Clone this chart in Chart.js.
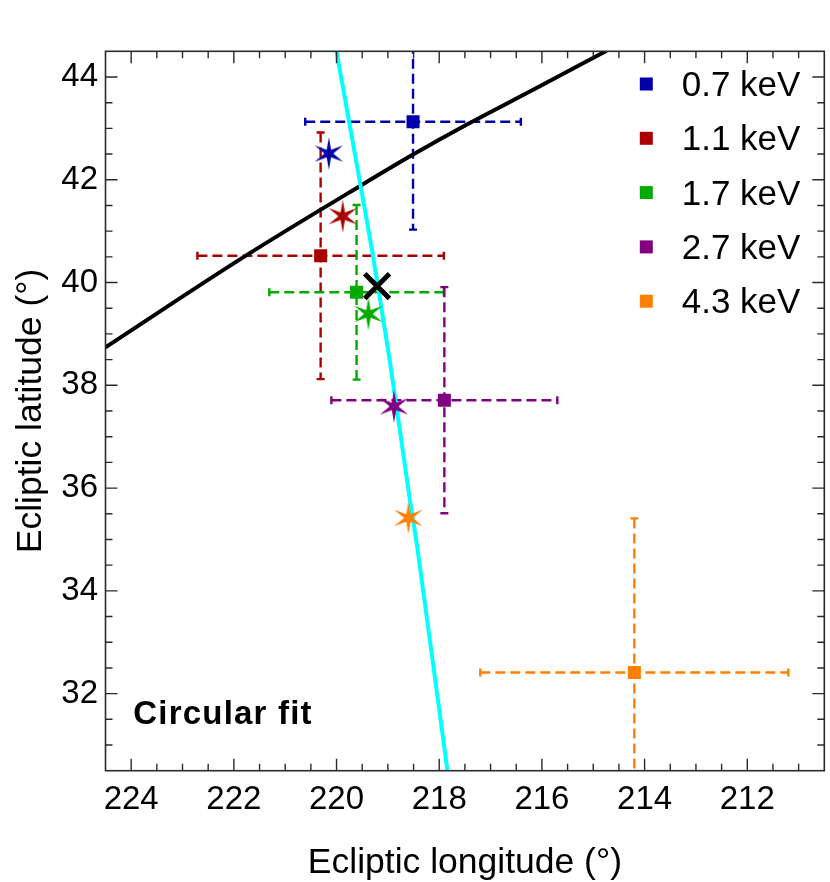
<!DOCTYPE html>
<html>
<head>
<meta charset="utf-8">
<script src="https://cdn.jsdelivr.net/npm/chart.js@4.4.1/dist/chart.umd.min.js"></script>
<style>
html,body{margin:0;padding:0;background:#ffffff;overflow:hidden;}
#c{display:block;}
</style>
</head>
<body>
<canvas id="c" width="830" height="882" style="width:830px;height:882px"></canvas>
<script>
// ---------------- data ----------------
const energyLabels = ['0.7 keV', '1.1 keV', '1.7 keV', '2.7 keV', '4.3 keV'];
const energyColors = ['#0000AA', '#AA0000', '#00AA00', '#800080', '#FF8000'];

// square markers with error bars (ecliptic longitude / latitude, degrees)
const squareLon = [218.51, 220.31, 219.61, 217.90, 214.20];
const squareLat = [43.13, 40.52, 39.81, 37.71, 32.41];
const lonErr = [2.1, 2.4, 1.7, 2.2, 3.0];
const latErr = [2.1, 2.4, 1.7, 2.2, 3.0];

// star markers
const starLon = [220.15, 219.88, 219.38, 218.88, 218.60];
const starLat = [42.51, 41.29, 39.39, 37.59, 35.42];

// black cross (fit centre)
const centreLon = [219.21];
const centreLat = [39.93];

// black curve
const blackLon = [224.5, 221.82, 219.54, 218.51, 217.47, 216.17, 214.74];
const blackLat = [38.74, 40.49, 41.88, 42.49, 43.07, 43.75, 44.51];

// cyan curve
const cyanLon = [220.01, 219.54, 219.31, 218.97, 218.57, 218.42, 217.84];
const cyanLat = [44.55, 41.93, 40.63, 38.52, 35.76, 34.79, 30.50];

// axes
const lonTicks = [224, 222, 220, 218, 216, 214, 212];
const latTicks = [32, 34, 36, 38, 40, 42, 44];
const lonRange = [210.5, 224.5];
const latRange = [30.5, 44.5];
const minorStep = 0.5;

const xTitle = 'Ecliptic longitude (°)';
const yTitle = 'Ecliptic latitude (°)';
const panelLabel = 'Circular fit';

// ---------------- helpers ----------------
const FAMILY = '"Liberation Sans", Arial, Helvetica, sans-serif';
const zip = (xs, ys) => xs.map((x, i) => ({ x: x, y: ys[i] }));

function makeStar(color) {
  const R = 16.5, r = 4.4, s = 38;
  const c = document.createElement('canvas');
  c.width = s; c.height = s;
  const g = c.getContext('2d');
  g.translate(s / 2, s / 2);
  g.beginPath();
  for (let k = 0; k < 12; k++) {
    const a = -Math.PI / 2 + k * Math.PI / 6;
    const rad = (k % 2 === 0) ? R : r;
    const px = Math.cos(a) * rad, py = Math.sin(a) * rad;
    if (k === 0) g.moveTo(px, py); else g.lineTo(px, py);
  }
  g.closePath();
  g.fillStyle = color;
  g.fill();
  return c;
}
const starImages = energyColors.map(makeStar);

// ---------------- plugins ----------------
const errorBarPlugin = {
  id: 'errorBars',
  beforeDatasetsDraw(chart) {
    const { ctx, chartArea: a, scales: { x, y } } = chart;
    ctx.save();
    ctx.beginPath();
    ctx.rect(a.left, a.top, a.right - a.left, a.bottom - a.top);
    ctx.clip();
    const cap = 4;
    squareLon.forEach((lon, i) => {
      const lat = squareLat[i];
      const px = x.getPixelForValue(lon), py = y.getPixelForValue(lat);
      const x1 = x.getPixelForValue(lon + lonErr[i]);
      const x2 = x.getPixelForValue(lon - lonErr[i]);
      const y1 = y.getPixelForValue(lat + latErr[i]);
      const y2 = y.getPixelForValue(lat - latErr[i]);
      ctx.strokeStyle = energyColors[i];
      ctx.lineWidth = 2.4;
      ctx.setLineDash([10, 5]);
      ctx.beginPath();
      ctx.moveTo(x1, py); ctx.lineTo(x2, py);
      ctx.moveTo(px, y1); ctx.lineTo(px, y2);
      ctx.stroke();
      ctx.setLineDash([]);
      ctx.beginPath();
      ctx.moveTo(x1, py - cap); ctx.lineTo(x1, py + cap);
      ctx.moveTo(x2, py - cap); ctx.lineTo(x2, py + cap);
      ctx.moveTo(px - cap, y1); ctx.lineTo(px + cap, y1);
      ctx.moveTo(px - cap, y2); ctx.lineTo(px + cap, y2);
      ctx.stroke();
    });
    ctx.restore();
  }
};

const framePlugin = {
  id: 'frame',
  afterDraw(chart) {
    const { ctx, chartArea: a, scales: { x, y } } = chart;
    ctx.save();
    ctx.strokeStyle = '#2a2a2a';
    ctx.lineWidth = 1.6;
    ctx.strokeRect(a.left, a.top, a.right - a.left, a.bottom - a.top);
    const majorLen = 12, minorLen = 7;
    const minorVals = (lo, hi, majors) => {
      const out = [];
      for (let v = Math.ceil(lo / minorStep) * minorStep; v <= hi + 1e-9; v += minorStep) {
        if (v <= lo + 1e-9 || v >= hi - 1e-9) continue;
        if (majors.some(m => Math.abs(m - v) < 1e-9)) continue;
        out.push(v);
      }
      return out;
    };
    ctx.beginPath();
    const xMaj = x.ticks.map(t => t.value);
    const yMaj = y.ticks.map(t => t.value);
    xMaj.forEach(v => {
      const p = x.getPixelForValue(v);
      ctx.moveTo(p, a.bottom); ctx.lineTo(p, a.bottom - majorLen);
      ctx.moveTo(p, a.top); ctx.lineTo(p, a.top + majorLen);
    });
    minorVals(lonRange[0], lonRange[1], xMaj).forEach(v => {
      const p = x.getPixelForValue(v);
      ctx.moveTo(p, a.bottom); ctx.lineTo(p, a.bottom - minorLen);
      ctx.moveTo(p, a.top); ctx.lineTo(p, a.top + minorLen);
    });
    yMaj.forEach(v => {
      const p = y.getPixelForValue(v);
      ctx.moveTo(a.left, p); ctx.lineTo(a.left + majorLen, p);
      ctx.moveTo(a.right, p); ctx.lineTo(a.right - majorLen, p);
    });
    minorVals(latRange[0], latRange[1], yMaj).forEach(v => {
      const p = y.getPixelForValue(v);
      ctx.moveTo(a.left, p); ctx.lineTo(a.left + minorLen, p);
      ctx.moveTo(a.right, p); ctx.lineTo(a.right - minorLen, p);
    });
    ctx.lineWidth = 1.4;
    ctx.stroke();

    // legend
    ctx.font = '35px ' + FAMILY;
    ctx.textBaseline = 'middle';
    ctx.textAlign = 'left';
    energyLabels.forEach((lab, i) => {
      const cy = a.top + 32.7 + i * 54.3;
      ctx.fillStyle = energyColors[i];
      ctx.fillRect(a.right - 178 - 6.5, cy - 6.5, 13, 13);
      ctx.fillStyle = '#000';
      ctx.fillText(lab, a.right - 142.6, cy + 2.5);
    });

    // panel label
    ctx.font = 'bold 33px ' + FAMILY;
    if ('letterSpacing' in ctx) ctx.letterSpacing = '1.2px';
    ctx.fillStyle = '#000';
    ctx.fillText(panelLabel, a.left + 27.8, a.bottom - 55.5);
    ctx.restore();
  }
};

// ---------------- chart ----------------
new Chart(document.getElementById('c').getContext('2d'), {
  type: 'scatter',
  data: {
    datasets: [
      {
        label: 'great circle (black)',
        data: zip(blackLon, blackLat),
        showLine: true,
        borderColor: '#000000',
        borderWidth: 4,
        pointRadius: 0,
        cubicInterpolationMode: 'monotone',
        fill: false,
        order: 10
      },
      {
        label: 'great circle (cyan)',
        data: zip(cyanLon, cyanLat),
        showLine: true,
        borderColor: '#00FFFF',
        borderWidth: 4,
        pointRadius: 0,
        tension: 0.3,
        fill: false,
        order: 9
      },
      {
        label: 'positions',
        data: zip(squareLon, squareLat),
        pointStyle: 'rect',
        pointRadius: 9.2,
        pointBorderWidth: 0,
        backgroundColor: energyColors,
        borderColor: energyColors,
        order: 5
      },
      {
        label: 'stars',
        data: zip(starLon, starLat),
        pointStyle: starImages,
        pointRadius: 16,
        order: 2
      },
      {
        label: 'centre',
        data: zip(centreLon, centreLat),
        pointStyle: 'crossRot',
        pointRadius: 17.5,
        pointBorderWidth: 5,
        borderColor: '#000000',
        backgroundColor: '#000000',
        order: 1
      }
    ]
  },
  options: {
    responsive: false,
    animation: false,
    devicePixelRatio: 1,
    events: [],
    layout: { autoPadding: false, padding: { top: 51.3, right: 5.7, left: 0, bottom: 0 } },
    plugins: { legend: { display: false }, tooltip: { enabled: false } },
    scales: {
      x: {
        type: 'linear',
        min: lonRange[0],
        max: lonRange[1],
        reverse: true,
        afterBuildTicks: s => { s.ticks = lonTicks.map(v => ({ value: v })); },
        afterFit: s => { s.height = 111.3; s.paddingLeft = 0; s.paddingRight = 0; },
        grid: { display: false, drawTicks: false },
        border: { display: false },
        ticks: {
          font: { family: FAMILY, size: 33 },
          color: '#000000',
          padding: 9,
          maxRotation: 0,
          autoSkip: false,
          callback: v => String(v)
        },
        title: {
          display: true,
          text: xTitle,
          color: '#000000',
          font: { family: FAMILY, size: 35.5, lineHeight: 1 },
          padding: { top: 0, bottom: 1 }
        }
      },
      y: {
        type: 'linear',
        min: latRange[0],
        max: latRange[1],
        afterBuildTicks: s => { s.ticks = latTicks.map(v => ({ value: v })); },
        afterFit: s => { s.width = 105.5; s.paddingTop = 0; s.paddingBottom = 0; },
        grid: { display: false, drawTicks: false },
        border: { display: false },
        ticks: {
          font: { family: FAMILY, size: 33 },
          color: '#000000',
          padding: 7.5,
          autoSkip: false,
          callback: v => String(v)
        },
        title: {
          display: true,
          text: yTitle,
          color: '#000000',
          font: { family: FAMILY, size: 35.5, lineHeight: 1 },
          padding: { top: 13, bottom: 0 }
        }
      }
    }
  },
  plugins: [errorBarPlugin, framePlugin]
});
</script>
</body>
</html>
